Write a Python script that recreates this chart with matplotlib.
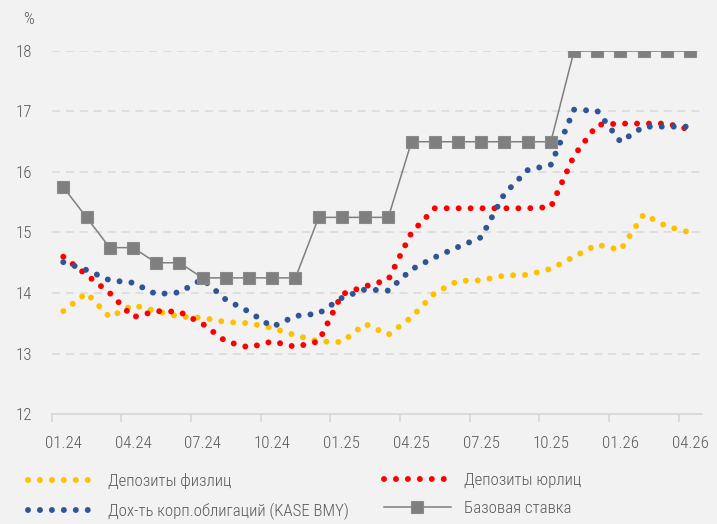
import numpy as np
import matplotlib
matplotlib.use("Agg")
import matplotlib.pyplot as plt
from matplotlib import font_manager
from matplotlib.lines import Line2D

# ---------------- data ----------------
months = ["01.24", "02.24", "03.24", "04.24", "05.24", "06.24", "07.24", "08.24",
          "09.24", "10.24", "11.24", "12.24", "01.25", "02.25", "03.25", "04.25",
          "05.25", "06.25", "07.25", "08.25", "09.25", "10.25", "11.25", "12.25",
          "01.26", "02.26", "03.26", "04.26"]

dep_individuals = [13.70, 14.00, 13.60, 13.80, 13.70, 13.61, 13.59, 13.52, 13.50, 13.42,
                   13.30, 13.20, 13.19, 13.49, 13.31, 13.60, 14.00, 14.20, 14.21, 14.29,
                   14.30, 14.40, 14.60, 14.80, 14.71, 15.30, 15.10, 15.00]

dep_corporates = [14.60, 14.30, 14.00, 13.60, 13.70, 13.69, 13.49, 13.20, 13.10, 13.20,
                  13.11, 13.20, 13.98, 14.11, 14.22, 15.00, 15.40, 15.40, 15.40, 15.40,
                  15.40, 15.42, 16.27, 16.78, 16.80, 16.80, 16.80, 16.70]

corp_bonds = [14.51, 14.38, 14.21, 14.17, 13.98, 14.01, 14.23, 13.89, 13.69, 13.44,
              13.62, 13.66, 13.92, 14.06, 14.04, 14.39, 14.59, 14.76, 14.92, 15.64,
              16.03, 16.12, 17.03, 17.01, 16.50, 16.75, 16.75, 16.75]

base_rate = [15.75, 15.25, 14.75, 14.75, 14.50, 14.50, 14.25, 14.25, 14.25, 14.25,
             14.25, 15.25, 15.25, 15.25, 15.25, 16.50, 16.50, 16.50, 16.50, 16.50,
             16.50, 16.50, 18.00, 18.00, 18.00, 18.00, 18.00, 18.00]

labels = ["Депозиты физлиц", "Депозиты юрлиц",
          "Дох-ть корп.облигаций (KASE BMY)", "Базовая ставка"]
y_ticks = [12, 13, 14, 15, 16, 17, 18]

# ---------------- fonts ----------------
available = {f.name for f in font_manager.fontManager.ttflist}
font = "DejaVu Sans"
for cand in ["Roboto Condensed", "Liberation Sans Narrow", "Open Sans Condensed",
             "Noto Sans Condensed", "Roboto", "Liberation Sans"]:
    if cand in available:
        font = cand
        break
plt.rcParams["font.family"] = [font, "DejaVu Sans"]
plt.rcParams["font.weight"] = "light"

TXT = "#595959"
GRID = "#d9d9d9"
BG = "#f2f2f2"
FS = 12.2

C_IND = "#FFC000"
C_CORP = "#FF0000"
C_BOND = "#2F5597"
C_BASE = "#7F7F7F"

DOT_LW = 4.3
DOT_LS = (0, (0.001, 2.0))

fig = plt.figure(figsize=(7.17, 5.24), dpi=100, facecolor=BG)
ax = fig.add_axes([0.0721, 0.2099, 0.9066, 0.6928])
ax.set_facecolor(BG)

x = np.arange(len(months))

ax.plot(x, dep_individuals, color=C_IND, lw=DOT_LW, linestyle=DOT_LS,
        dash_capstyle="round", zorder=3)
ax.plot(x, dep_corporates, color=C_CORP, lw=DOT_LW, linestyle=DOT_LS,
        dash_capstyle="round", zorder=3)
ax.plot(x, corp_bonds, color=C_BOND, lw=DOT_LW, linestyle=DOT_LS,
        dash_capstyle="round", zorder=3)
ax.plot(x, base_rate, color=C_BASE, lw=1.1, marker="s", ms=9.2,
        mfc=C_BASE, mec="#8a8a8a", mew=0.8, zorder=5)

ax.set_xlim(-0.5, len(months) - 0.5)
ax.set_ylim(12, 18)
ax.set_yticks(y_ticks)
ax.set_yticklabels([str(v) for v in y_ticks])

major = list(range(0, len(months), 3))
ax.set_xticks(major)
ax.set_xticklabels([months[i] for i in major])
ax.set_xticks([i - 0.5 for i in major], minor=True)

ax.tick_params(axis="x", which="major", length=0, pad=16, labelsize=FS, labelcolor=TXT)
ax.tick_params(axis="x", which="minor", length=5.5, width=1.3, color=GRID, direction="out")
ax.tick_params(axis="y", length=0, pad=14, labelsize=FS, labelcolor=TXT)

ax.grid(axis="y", color=GRID, lw=1.1, linestyle=(0, (5.2, 3.9)), zorder=0)
ax.set_axisbelow(True)
for s in ["top", "left", "right"]:
    ax.spines[s].set_visible(False)
ax.spines["bottom"].set_color(GRID)
ax.spines["bottom"].set_linewidth(1.3)
ax.spines["bottom"].set_zorder(1)

fig.text(28 / 717, 1 - 20 / 524, "%", ha="center", va="center", fontsize=FS, color=TXT)

h_ind = Line2D([], [], color=C_IND, lw=DOT_LW, linestyle=DOT_LS, dash_capstyle="round")
h_corp = Line2D([], [], color=C_CORP, lw=DOT_LW, linestyle=DOT_LS, dash_capstyle="round")
h_bond = Line2D([], [], color=C_BOND, lw=DOT_LW, linestyle=DOT_LS, dash_capstyle="round")
h_base = Line2D([], [], color=C_BASE, lw=1.1, marker="s", ms=9.2, mfc=C_BASE,
                mec="#8a8a8a", mew=0.8)

common = dict(loc="upper left", frameon=False, fontsize=FS, handlelength=3.95,
              handletextpad=0.75, labelspacing=0.78, borderpad=0, borderaxespad=0,
              labelcolor=TXT)
fig.legend([h_ind, h_bond], [labels[0], labels[2]],
           bbox_to_anchor=(28 / 717, 1 - 473 / 524), **common)
fig.legend([h_corp, h_base], [labels[1], labels[3]],
           bbox_to_anchor=(384 / 717, 1 - 473 / 524), **common)

fig.savefig("out.png", dpi=100, facecolor=BG)
